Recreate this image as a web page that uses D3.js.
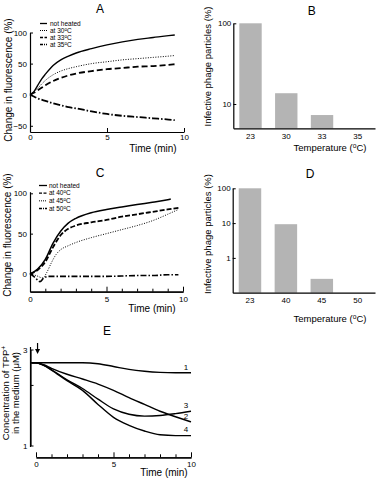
<!DOCTYPE html>
<html><head><meta charset="utf-8">
<script src="https://cdn.jsdelivr.net/npm/d3@7"></script>
<style>
body{margin:0;background:#fff}
svg text{font-family:"Liberation Sans",Arial,sans-serif;fill:#000}
</style>
</head><body>
<svg id="c" width="376" height="478"></svg>
<script>
// ---------- DATA ----------
// Panel A (time in min, change in fluorescence %)
const tA = [0,0.25,0.5,0.75,1,1.5,2,2.5,3,4,5,6,7,8,9,9.4];
const aNotHeated = [0,5,15,25,33,47,56,62,67,74,80,85,89,92,95,96];
const a30 = [0,4,10,17,23,32,38,42,45,50,53,56,58,60,62,63];
const a33 = [0,3,7,11,15,22,27,31,34,38,41,43,45,46,48,49];
const a35 = [0,-3,-6,-8,-10,-14,-17,-20,-22,-27,-31,-34,-36,-38,-40,-41];
const legendA = ["not heated","at 30","at 33","at 35"];

// Panel B
const catB = ["23","30","33","35"];
const valB = [100,13.6,7.3,null];

// Panel C
const tCnh = [0,0.5,1,1.5,2,2.5,3,4,5,6,7,8,9,9.2];
const cNotHeated = [0,6,18,38,53,63,69,76,80,83,86,89,92,93];
const tC40 = [0,0.5,1,1.5,2,2.5,3,4,5,6,7,8,9,9.7];
const c40 = [0,5,15,33,48,56,60,64,67,71,74,77,80,82];
const tC45 = [0,0.4,0.85,1.1,1.4,1.7,2,2.5,3,4,5,6,7,8,9,9.7];
const c45 = [0,-2,-5,2,14,24,30,35,39,45,50,55,60,66,74,80];
const tC50 = [0,0.3,0.65,0.9,1.2,2,3,4,5,6,7,8,9,9.7];
const c50 = [0,-4,-9.5,-5,-3,-3,-3,-3,-3,-2.5,-2,-2,-1,-1];
const legendC = ["not heated","at 40","at 45","at 50"];

// Panel D
const catD = ["23","40","45","50"];
const valD = [100,9.3,0.25,null];

// Panel E (TPP+ concentration, µM)
const tE = [-0.3,0,0.5,1,2,3,4,5,6,7,8,9,10];
const e1 = [2.58,2.58,2.58,2.58,2.58,2.58,2.55,2.47,2.39,2.34,2.31,2.30,2.30];
const e2 = [2.58,2.58,2.52,2.42,2.26,2.14,2.02,1.88,1.73,1.60,1.48,1.39,1.31];
const e3 = [2.58,2.58,2.50,2.38,2.12,1.92,1.70,1.52,1.43,1.40,1.41,1.44,1.48];
const e4 = [2.58,2.58,2.50,2.37,2.10,1.88,1.60,1.38,1.26,1.18,1.13,1.12,1.12];
const eLabels = ["1","2","3","4"];
const arrowTime = 0.1;

// ---------- DRAW ----------
const svg = d3.select("#c");
const zip = (t,v) => t.map((x,i)=>[x,v[i]]);

function axisStyle(g){
  g.selectAll("path.domain").attr("stroke","#000").attr("stroke-width",1.2);
  g.selectAll(".tick line").attr("stroke","#000").attr("stroke-width",1);
  g.selectAll(".tick text").attr("font-size",8).attr("font-family","Liberation Sans, Arial, sans-serif");
}
function title(x,y,t){ svg.append("text").attr("x",x).attr("y",y).attr("text-anchor","middle").attr("font-size",12).text(t); }
function label(x,y,t,rot,size){
  const el = svg.append("text").attr("text-anchor","middle").attr("font-size",size||10)
    .attr("transform",`translate(${x},${y})`+(rot?" rotate(-90)":"")).attr("dy","0.35em");
  return el;
}
function supLabel(el, before, sup, after){
  el.append("tspan").text(before);
  el.append("tspan").attr("baseline-shift","super").attr("font-size","70%").text(sup);
  el.append("tspan").text(after);
}

// ----- Panel A -----
const xA = d3.scaleLinear([0,10],[30,184]);
const yA = d3.scaleLinear([-60,100],[132,32.5]);
svg.append("g").attr("transform","translate(30,0)")
  .call(d3.axisLeft(yA).tickValues([-50,0,50,100]).tickSize(-3).tickSizeOuter(0).tickPadding(3)).call(axisStyle);
svg.append("g").attr("transform","translate(0,132)")
  .call(d3.axisBottom(xA).tickValues([0,5,10]).tickSize(-4).tickSizeOuter(0).tickPadding(2)).call(axisStyle);
const lineA = d3.line().x(d=>xA(d[0])).y(d=>yA(d[1])).curve(d3.curveMonotoneX);
const stylesA = [
  {v:aNotHeated, dash:null, w:1.4},
  {v:a30, dash:"1,1.5", w:1},
  {v:a33, dash:"6,3", w:1.8},
  {v:a35, dash:"7,2,1.5,2", w:1.8}
];
stylesA.forEach(s=>{
  svg.append("path").attr("d",lineA(zip(tA,s.v))).attr("fill","none").attr("stroke","#000")
    .attr("stroke-width",s.w).attr("stroke-dasharray",s.dash);
});
const legYA = d3.scalePoint(d3.range(4),[23.5,44.5]);
legendA.forEach((t,i)=>{
  const s = stylesA[i];
  svg.append("line").attr("x1",40).attr("x2",47).attr("y1",legYA(i)).attr("y2",legYA(i))
    .attr("stroke","#000").attr("stroke-width",Math.min(s.w,1.3)).attr("stroke-dasharray",s.dash?(i===1?"1,1":i===2?"3,1.5":"3,1,1,1"):null);
  const el = svg.append("text").attr("x",50).attr("y",legYA(i)).attr("dy","0.35em").attr("font-size",6.5);
  if(i===0) el.text(t); else supLabel(el, t, "o", "C");
});
title(100,13,"A");
label(8,80,"",true).text("Change in fluorescence (%)");
label(153,148,"").text("Time (min)");

// ----- Panel B -----
const xB = d3.scaleBand(catB,[233.3,375]).paddingInner(0.374).paddingOuter(0.168);
const yB = d3.scaleLog([5,100],[128.3,23.3]);
svg.append("g").selectAll("rect").data(catB.map((c,i)=>({c,v:valB[i]})).filter(d=>d.v!=null))
  .join("rect").attr("x",d=>xB(d.c)).attr("width",xB.bandwidth())
  .attr("y",d=>yB(d.v)).attr("height",d=>yB(5)-yB(d.v)).attr("fill","#b4b4b4");
svg.append("g").attr("transform","translate(233.3,0)")
  .call(d3.axisLeft(yB).tickValues([10,100]).tickFormat(d3.format("d")).tickSize(-3).tickSizeOuter(0).tickPadding(2)).call(axisStyle);
svg.append("g").attr("transform","translate(0,128.3)")
  .call(d3.axisBottom(xB).tickSize(0).tickPadding(5.5)).call(axisStyle);
title(311.7,15,"B");
label(208,66.5,"",true,9.5).text("Infective phage particles (%)");
supLabel(label(330,148,"",false,9.5),"Temperature (","o","C)");

// ----- Panel C -----
const xC = d3.scaleLinear([0,10],[30,183]);
const yC = d3.scaleLinear([-22,102],[291.7,191.7]);
svg.append("g").attr("transform","translate(30,0)")
  .call(d3.axisLeft(yC).tickValues([0,50,100]).tickSize(-3).tickSizeOuter(0).tickPadding(3)).call(axisStyle);
svg.append("g").attr("transform","translate(0,291.7)")
  .call(d3.axisBottom(xC).tickValues(d3.range(1,10).filter(d=>d!==5)).tickSize(-3).tickSizeOuter(0).tickFormat("")).call(axisStyle);
svg.append("g").attr("transform","translate(0,291.7)")
  .call(d3.axisBottom(xC).tickValues([0,5,10]).tickSize(-5).tickSizeOuter(0).tickPadding(4.7)).call(axisStyle);
const lineC = d3.line().x(d=>xC(d[0])).y(d=>yC(d[1])).curve(d3.curveMonotoneX);
const stylesC = [
  {t:tCnh, v:cNotHeated, dash:null, w:1.5},
  {t:tC40, v:c40, dash:"5,2", w:1.8},
  {t:tC45, v:c45, dash:"1,1.5", w:1},
  {t:tC50, v:c50, dash:"6,2,1.5,2", w:1.6}
];
stylesC.forEach(s=>{
  svg.append("path").attr("d",lineC(zip(s.t,s.v))).attr("fill","none").attr("stroke","#000")
    .attr("stroke-width",s.w).attr("stroke-dasharray",s.dash);
});
const legYC = d3.scalePoint(d3.range(4),[185.5,208.5]);
legendC.forEach((t,i)=>{
  const s = stylesC[i];
  svg.append("line").attr("x1",39).attr("x2",47).attr("y1",legYC(i)).attr("y2",legYC(i))
    .attr("stroke","#000").attr("stroke-width",Math.min(s.w,1.3)).attr("stroke-dasharray",s.dash?(i===2?"1,1":i===1?"3,1.5":"3,1,1,1"):null);
  const el = svg.append("text").attr("x",49).attr("y",legYC(i)).attr("dy","0.35em").attr("font-size",6.5);
  if(i===0) el.text(t); else supLabel(el, t, "o", "C");
});
title(100,177,"C");
label(7,235,"",true).text("Change in fluorescence (%)");
label(152,308.5,"").text("Time (min)");

// ----- Panel D -----
const xD = d3.scaleBand(catD,[232.7,375]).paddingInner(0.374).paddingOuter(0.168);
const yD = d3.scaleLog([0.1,100],[292.7,188.3]);
svg.append("g").selectAll("rect").data(catD.map((c,i)=>({c,v:valD[i]})).filter(d=>d.v!=null))
  .join("rect").attr("x",d=>xD(d.c)).attr("width",xD.bandwidth())
  .attr("y",d=>yD(d.v)).attr("height",d=>yD(0.1)-yD(d.v)).attr("fill","#b4b4b4");
svg.append("g").attr("transform","translate(232.7,0)")
  .call(d3.axisLeft(yD).tickValues([1,10,100]).tickFormat(d3.format("d")).tickSize(-3).tickSizeOuter(0).tickPadding(2)).call(axisStyle);
svg.append("g").attr("transform","translate(0,292.7)")
  .call(d3.axisBottom(xD).tickSize(0).tickPadding(5)).call(axisStyle);
title(310,178,"D");
label(208,234,"",true,9.5).text("Infective phage particles (%)");
supLabel(label(330,318.3,"",false,9.5),"Temperature (","o","C)");

// ----- Panel E -----
const xE = d3.scaleLinear([0,10],[36,191]);
const yE = d3.scaleLog([1,3],[445.5,349.5]);
svg.append("line").attr("x1",30.5).attr("x2",30.5).attr("y1",347).attr("y2",447).attr("stroke","#000").attr("stroke-width",1.2);
svg.append("g").attr("transform","translate(30.5,0)")
  .call(d3.axisLeft(yE).tickValues([1,2,3]).tickFormat(d=>d===2?"":d3.format("d")(d)).tickSize(-3).tickSizeOuter(0).tickPadding(3)).call(axisStyle);
svg.append("g").attr("transform","translate(0,457.3)")
  .call(d3.axisBottom(xE).tickValues(d3.range(1,10).filter(d=>d!==5)).tickSize(-3).tickSizeOuter(0).tickFormat("")).call(axisStyle);
svg.append("g").attr("transform","translate(0,457.3)")
  .call(d3.axisBottom(xE).tickValues([0,5,10]).tickSize(-5).tickSizeOuter(0).tickPadding(4.5)).call(axisStyle);
const lineE = d3.line().x(d=>xE(d[0])).y(d=>yE(d[1])).curve(d3.curveMonotoneX);
[e1,e2,e3,e4].forEach((v,i)=>{
  svg.append("path").attr("d",lineE(zip(tE,v))).attr("fill","none").attr("stroke","#000").attr("stroke-width",1.4);
  svg.append("text").attr("x",xE(10)-5).attr("y",yE(v[v.length-1])-6).attr("dy","0.35em")
    .attr("text-anchor","middle").attr("font-size",8).text(eLabels[i]);
});
// arrow
const ax = xE(arrowTime);
svg.append("line").attr("x1",ax).attr("x2",ax).attr("y1",343).attr("y2",350).attr("stroke","#000").attr("stroke-width",1.2);
svg.append("path").attr("d",`M${ax-2.5},349 L${ax+2.5},349 L${ax},354 Z`).attr("fill","#000");
title(107,335,"E");
const eyl = label(6,393,"",true,9.5);
eyl.append("tspan").text("Concentration of TPP");
eyl.append("tspan").attr("baseline-shift","super").attr("font-size","70%").text("+");
label(16,393,"",true,9.5).text("in the medium (\u03bcM)");
label(164,472.3,"").text("Time (min)");
</script>
</body></html>
